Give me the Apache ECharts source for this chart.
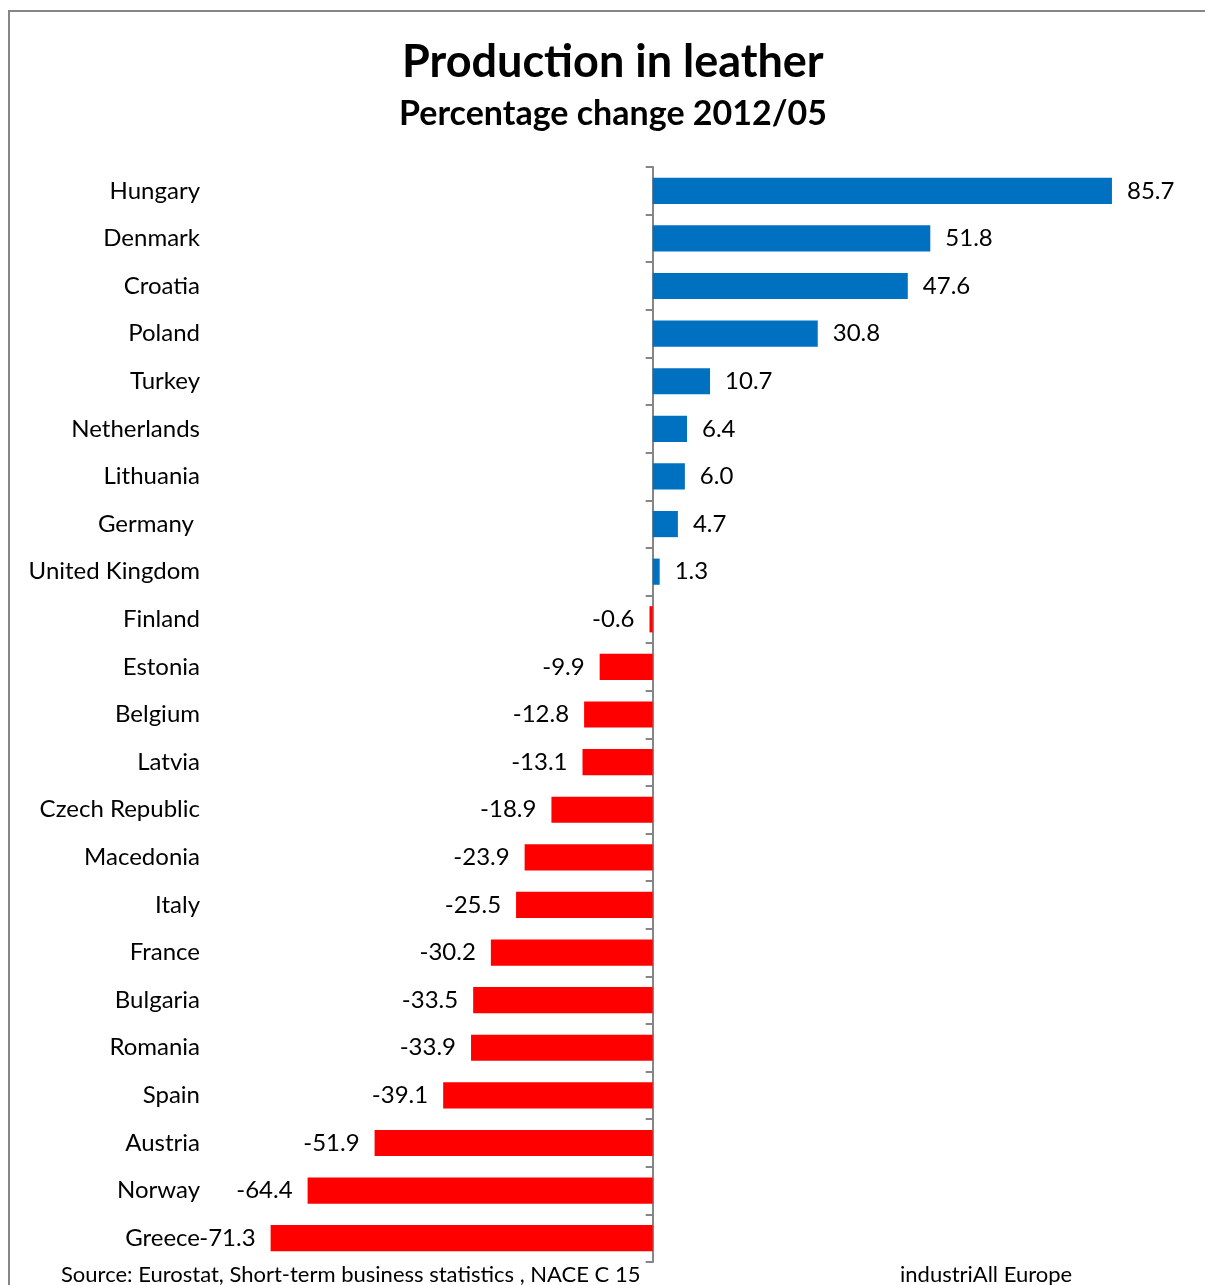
<!DOCTYPE html>
<html>
<head>
<meta charset="utf-8">
<script src="https://cdn.jsdelivr.net/npm/echarts@6/dist/echarts.min.js"></script>
<style>
  html, body { margin: 0; padding: 0; background: #fff; }
  #chart { width: 1205px; height: 1285px; }
</style>
</head>
<body>
<div id="chart"></div>
<script>
// Production in leather, percentage change 2012/05, by country
const countries = [
  'Hungary', 'Denmark', 'Croatia', 'Poland', 'Turkey', 'Netherlands', 'Lithuania',
  'Germany ', 'United Kingdom', 'Finland', 'Estonia', 'Belgium', 'Latvia',
  'Czech Republic', 'Macedonia', 'Italy', 'France', 'Bulgaria', 'Romania',
  'Spain', 'Austria', 'Norway', 'Greece'
];
const changes = [
  85.7, 51.8, 47.6, 30.8, 10.7, 6.4, 6.0,
  4.7, 1.3, -0.6, -9.9, -12.8, -13.1,
  -18.9, -23.9, -25.5, -30.2, -33.5, -33.9,
  -39.1, -51.9, -64.4, -71.3
];

const FONT = 'Lato, "Open Sans", sans-serif';
const POS_COLOR = '#0070C0';
const NEG_COLOR = '#FF0000';

const barData = changes.map(v => ({
  value: v,
  itemStyle: { color: v >= 0 ? POS_COLOR : NEG_COLOR },
  label: { position: v >= 0 ? 'right' : 'left' }
}));

const chart = echarts.init(document.getElementById('chart'), null, { renderer: 'canvas' });

chart.setOption({
  backgroundColor: '#ffffff',
  animation: false,
  title: [
    {
      text: 'Production in leather',
      left: 397,
      top: 35,
      textStyle: { fontFamily: FONT, fontSize: 45, fontWeight: 'bold', color: '#000' }
    },
    {
      text: 'Percentage change 2012/05',
      left: 394,
      top: 92,
      textStyle: { fontFamily: FONT, fontSize: 34, fontWeight: 'bold', color: '#000' }
    }
  ],
  graphic: [
    {
      type: 'rect',
      shape: { x: 9, y: 11, width: 1220, height: 1300 },
      style: { fill: 'none', stroke: '#868686', lineWidth: 2 },
      silent: true
    },
    {
      type: 'text',
      left: 61,
      top: 1264,
      style: {
        text: 'Source: Eurostat, Short-term business statistics , NACE C 15',
        font: '22px ' + FONT,
        fill: '#000'
      }
    },
    {
      type: 'text',
      left: 900,
      top: 1264,
      style: { text: 'industriAll Europe', font: '22px ' + FONT, fill: '#000' }
    }
  ],
  grid: {
    left: 224, right: 70, top: 167, bottom: 23,
    containLabel: false,
    outerBoundsMode: 'none'
  },
  xAxis: {
    type: 'value',
    min: -80,
    max: 90,
    show: false,
    splitLine: { show: false }
  },
  yAxis: [
    {
      // zero line with tick marks between categories
      type: 'category',
      data: countries,
      inverse: true,
      axisLine: { show: true, onZero: true, lineStyle: { color: '#868686', width: 2 } },
      axisTick: { show: true, length: 7, lineStyle: { color: '#868686', width: 2 } },
      axisLabel: { show: false },
      splitLine: { show: false }
    },
    {
      // country names along the left edge of the plot
      type: 'category',
      data: countries,
      inverse: true,
      position: 'left',
      axisLine: { show: false, onZero: false },
      axisTick: { show: false },
      axisLabel: {
        margin: 24,
        fontFamily: FONT,
        fontSize: 24,
        color: '#000'
      },
      splitLine: { show: false }
    }
  ],
  series: [
    {
      type: 'bar',
      yAxisIndex: 0,
      data: barData,
      barWidth: '55%',
      label: {
        show: true,
        distance: 15,
        fontFamily: FONT,
        fontSize: 24,
        color: '#000',
        formatter: p => p.value.toFixed(1)
      }
    }
  ]
});
</script>
</body>
</html>
